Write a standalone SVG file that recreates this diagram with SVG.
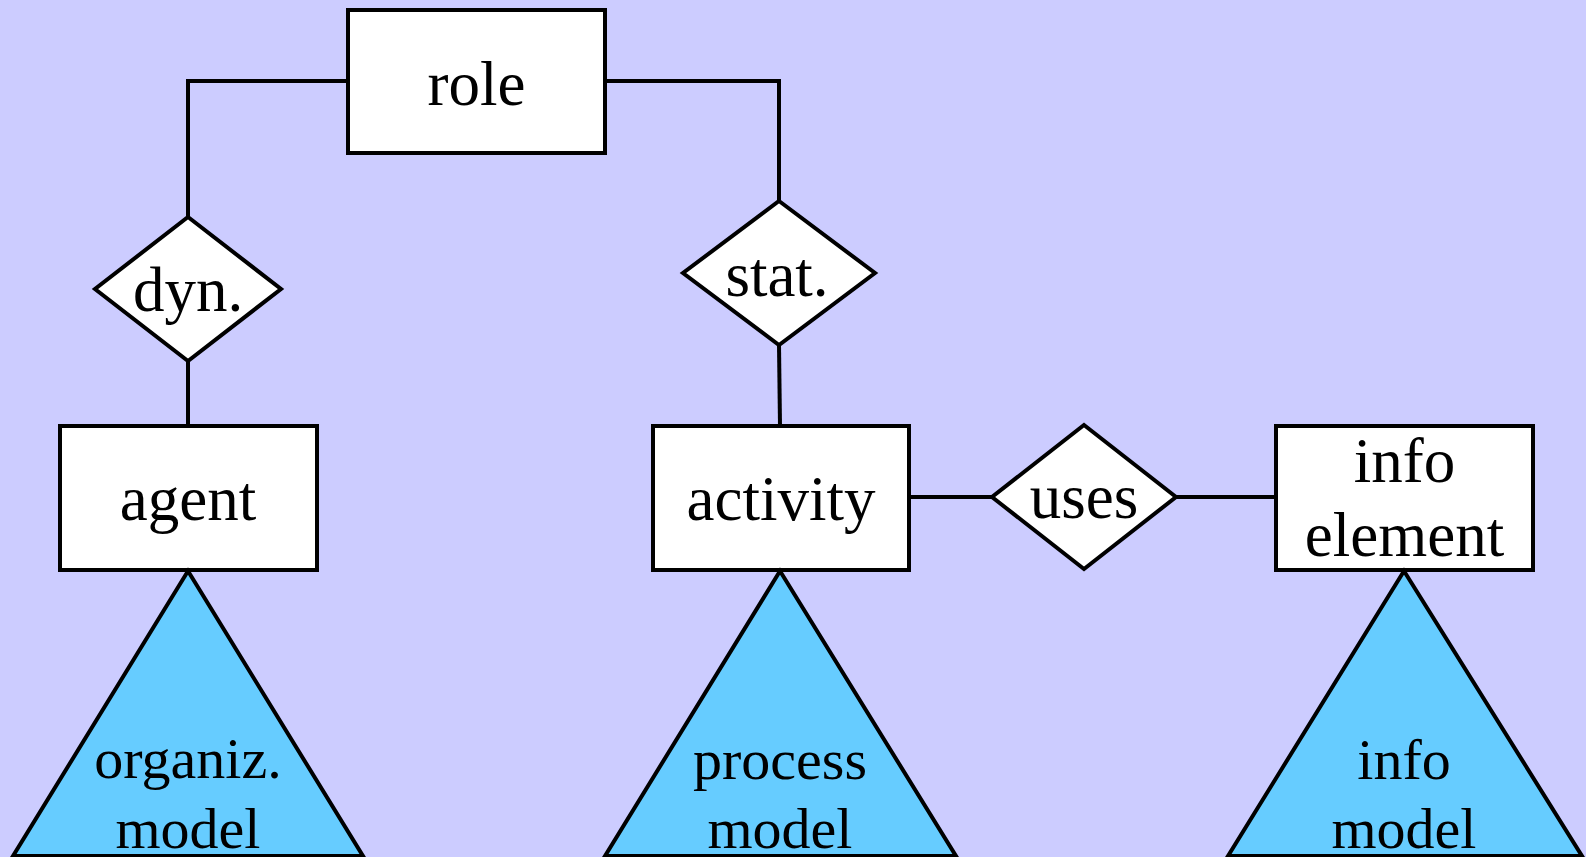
<svg xmlns="http://www.w3.org/2000/svg" width="1586" height="857" viewBox="0 0 1586 857">
<style>
.box{fill:#ffffff;stroke:#000000;stroke-width:4}
.tri{fill:#66ccff;stroke:#000000;stroke-width:4;stroke-linejoin:miter}
.conn{fill:none;stroke:#000000;stroke-width:4}
text{font-family:"Liberation Serif","Times New Roman",serif;font-size:63px;fill:#000000;text-anchor:middle}
text.small{font-size:58px}
</style>
<rect x="0" y="0" width="1586" height="857" fill="#ccccff"/>
<g id="connectors">
<polyline class="conn" points="348,81 188,81 188,217"/>
<line class="conn" x1="188" y1="361" x2="188" y2="426"/>
<polyline class="conn" points="605,81 779,81 779,201"/>
<line class="conn" x1="779" y1="345" x2="780" y2="426"/>
<line class="conn" x1="909" y1="497" x2="992" y2="497"/>
<line class="conn" x1="1176" y1="497" x2="1276" y2="497"/>
</g>
<g id="role">
<rect class="box" x="348" y="10" width="257" height="143"/>
<text x="476.5" y="105">role</text>
</g>
<g id="dyn">
<polygon class="box" points="188,217 281,289 188,361 95,289"/>
<text x="188" y="311">dyn.</text>
</g>
<g id="stat">
<polygon class="box" points="779,201 875,273 779,345 683,273"/>
<text x="777" y="296">stat.</text>
</g>
<g id="agent">
<rect class="box" x="60" y="426" width="257" height="144"/>
<text x="188" y="520">agent</text>
</g>
<g id="activity">
<rect class="box" x="653" y="426" width="256" height="144"/>
<text x="781" y="520">activity</text>
</g>
<g id="uses">
<polygon class="box" points="1084,425 1176,497 1084,569 992,497"/>
<text x="1084" y="518">uses</text>
</g>
<g id="info-element">
<rect class="box" x="1276" y="426" width="257" height="144"/>
<text x="1404.5" y="482">info</text>
<text x="1404.5" y="556">element</text>
</g>
<g id="organiz-model">
<polygon class="tri" points="188,571 363,856 13,856"/>
<text class="small" x="188" y="778">organiz.</text>
<text class="small" x="188" y="848">model</text>
</g>
<g id="process-model">
<polygon class="tri" points="780,571 956,856 605,856"/>
<text class="small" x="780" y="779">process</text>
<text class="small" x="780" y="848">model</text>
</g>
<g id="info-model">
<polygon class="tri" points="1404,571 1582,856 1228,856"/>
<text class="small" x="1404" y="779">info</text>
<text class="small" x="1404" y="848">model</text>
</g>
</svg>
